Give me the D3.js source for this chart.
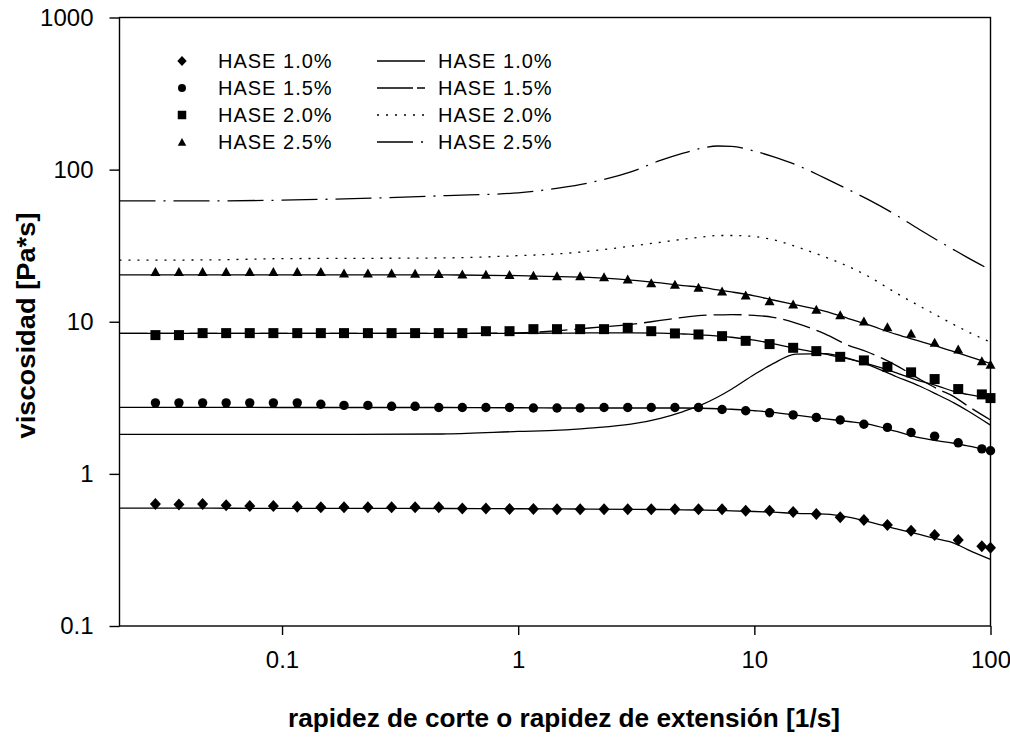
<!DOCTYPE html>
<html>
<head>
<meta charset="utf-8">
<script src="https://cdn.jsdelivr.net/npm/d3@7/dist/d3.min.js"></script>
<style>
  html, body { margin: 0; padding: 0; background: #fff; }
  svg { display: block; font-family: "Liberation Sans", Arial, sans-serif; }
</style>
</head>
<body>
<svg id="chart" width="1010" height="747"></svg>
<script>
// ---------- data ----------
const shearRates = [0.0291,0.0366,0.0461,0.0580,0.0730,0.0919,0.116,0.146,0.183,0.231,
  0.291,0.366,0.461,0.580,0.730,0.919,1.16,1.46,1.83,2.31,
  2.91,3.66,4.61,5.80,7.30,9.19,11.6,14.6,18.3,23.1,
  29.1,36.6,46.1,58.0,73.0,91.9,100];

const hase10Data = [0.633,0.630,0.633,0.621,0.614,0.614,0.608,0.603,0.603,0.603,
  0.603,0.603,0.603,0.593,0.593,0.587,0.587,0.585,0.585,0.585,
  0.585,0.585,0.585,0.585,0.585,0.573,0.573,0.562,0.545,0.518,
  0.497,0.461,0.423,0.396,0.367,0.335,0.327];
const hase15Data = [2.93,2.93,2.93,2.93,2.93,2.93,2.93,2.87,2.82,2.82,
  2.78,2.78,2.73,2.73,2.73,2.73,2.71,2.71,2.71,2.73,
  2.73,2.73,2.73,2.73,2.65,2.60,2.52,2.44,2.35,2.26,
  2.12,2.02,1.87,1.77,1.60,1.46,1.42];
const hase20Data = [8.17,8.17,8.42,8.42,8.42,8.42,8.42,8.42,8.42,8.42,
  8.42,8.42,8.42,8.42,8.67,8.67,8.94,8.94,8.94,8.94,
  9.12,8.67,8.38,8.25,8.04,7.49,7.13,6.74,6.41,5.88,
  5.57,5.05,4.65,4.20,3.61,3.33,3.15];
const hase25Data = [21.4,21.4,21.4,21.4,21.4,21.4,21.4,21.4,20.9,20.9,
  20.9,20.8,20.7,20.6,20.5,20.4,20.2,20.0,20.0,19.7,
  19.05,18.0,17.6,16.8,15.9,14.95,13.7,13.05,12.05,11.1,
  10.1,9.26,8.38,7.31,6.61,5.53,5.24];

const lineRates = [0.0205,0.05,0.1,0.2,0.5,1,1.5,2,3,4,5,6,7,8,10,12,15,20,25,30,40,50,60,70,80,100];
const fit10 = [0.595,0.595,0.593,0.593,0.592,0.590,0.588,0.587,0.585,0.583,0.580,0.578,0.575,0.572,0.566,0.560,0.550,0.544,0.520,0.488,0.435,0.400,0.372,0.351,0.318,0.274];
const fit15 = [2.74,2.74,2.73,2.73,2.73,2.72,2.71,2.71,2.71,2.71,2.71,2.70,2.68,2.66,2.60,2.54,2.43,2.30,2.21,2.13,1.90,1.73,1.65,1.59,1.53,1.42];
const fit20 = [8.38,8.38,8.38,8.38,8.38,8.40,8.42,8.44,8.45,8.42,8.31,8.21,8.05,7.91,7.57,7.17,6.65,6.12,5.70,5.30,4.62,4.08,3.78,3.48,3.33,3.13];
const fit25 = [20.3,20.3,20.3,20.3,20.3,20.1,19.8,19.6,18.8,18.0,17.3,16.8,16.2,15.7,14.8,13.9,12.9,11.7,10.5,9.6,8.25,7.45,6.85,6.37,5.95,5.32];
const model10 = [1.82,1.82,1.82,1.82,1.83,1.90,1.94,2.00,2.12,2.32,2.57,2.85,3.20,3.60,4.50,5.30,6.12,6.18,5.75,5.25,4.35,3.78,3.30,2.93,2.60,2.09];
const model15 = [8.38,8.38,8.38,8.38,8.38,8.45,8.75,9.10,9.60,10.2,10.7,11.0,11.1,11.15,11.0,10.7,9.8,8.3,7.0,6.35,5.15,4.2,3.6,3.22,2.8,2.26];
const model20 = [25.4,25.5,26.0,26.1,26.3,27.2,28.0,29.1,31.4,33.3,34.9,36.0,36.9,36.9,36.3,34.6,31.2,26.6,23.1,20.1,15.4,12.7,10.9,9.57,8.61,7.34];
const model25 = [62.3,62.3,63.0,64.5,67.5,70.3,75.9,82.0,96.6,114.9,128.2,138.5,143.0,142.3,132.4,121.7,107.6,87.6,74.0,64.2,50.1,40.4,34.1,29.7,26.4,21.9];

const seriesLabels = ["HASE 1.0%","HASE 1.5%","HASE 2.0%","HASE 2.5%"];
const yTicks = [0.1,1,10,100,1000];
const xTicks = [0.1,1,10,100];
const xTitle = "rapidez de corte o rapidez de extensión [1/s]";
const yTitle = "viscosidad [Pa*s]";

// ---------- layout ----------
const svg = d3.select("#chart");
const L = 119.5, R = 990.5, T = 17.5, B = 626;
const x = d3.scaleLog().domain([0.0205, 100]).range([L, R]);
const y = d3.scaleLog().domain([0.1, 1000]).range([B, T]);

svg.append("defs").append("clipPath").attr("id","plotclip")
  .append("rect").attr("x",L).attr("y",T).attr("width",R-L).attr("height",B-T);

// axes
const yAxis = d3.axisLeft(y).tickValues(yTicks).tickSize(10).tickPadding(16)
  .tickFormat(d => String(d));
const gy = svg.append("g").attr("transform",`translate(${L},0)`).call(yAxis);
const xAxis = d3.axisBottom(x).tickValues(xTicks).tickSize(9).tickPadding(16)
  .tickFormat(d => String(d));
const gx = svg.append("g").attr("transform",`translate(0,${B})`).call(xAxis);
[gx, gy].forEach(g => {
  g.select(".domain").remove();
  g.selectAll(".tick line").attr("stroke","#000").attr("stroke-width",1.4);
  g.selectAll(".tick text").attr("fill","#000").style("font-size","24px");
});

// frame
svg.append("rect").attr("x",L).attr("y",T).attr("width",R-L).attr("height",B-T)
  .attr("fill","none").attr("stroke","#000").attr("stroke-width",1.4);

// titles
svg.append("text").attr("x",564).attr("y",727).attr("text-anchor","middle")
  .attr("font-weight","bold").style("font-size","26px")
  .attr("textLength",552).attr("lengthAdjust","spacingAndGlyphs").text(xTitle);
svg.append("text").attr("transform","translate(35,325.5) rotate(-90)").attr("text-anchor","middle")
  .attr("font-weight","bold").style("font-size","26px")
  .attr("textLength",226).attr("lengthAdjust","spacingAndGlyphs").text(yTitle);

// lines
const lineGen = d3.line().x(d => x(d[0])).y(d => y(d[1])).curve(d3.curveMonotoneX);
const plot = svg.append("g").attr("clip-path","url(#plotclip)");
const lineSets = [
  {v: fit10, dash: null},
  {v: fit15, dash: null},
  {v: fit20, dash: null},
  {v: fit25, dash: null},
  {v: model10, dash: null},
  {v: model15, dash: "28,7"},
  {v: model20, dash: "2,7"},
  {v: model25, dash: "36,8,2,8"}
];
lineSets.forEach(s => {
  const pts = lineRates.map((r,i) => [r, s.v[i]]);
  const p = plot.append("path").attr("d", lineGen(pts)).attr("fill","none")
    .attr("stroke","#000").attr("stroke-width",1.3);
  if (s.dash) p.attr("stroke-dasharray", s.dash);
});

// markers
const shapes = [
  "M0,-6L5.5,0L0,6L-5.5,0Z",
  "M4.7,0A4.7,4.7 0 1,1 -4.7,0A4.7,4.7 0 1,1 4.7,0Z",
  "M-5,-5H5V5H-5Z",
  "M0,-4.6L5,4.4L-5,4.4Z"
];
const dataSets = [hase10Data, hase15Data, hase20Data, hase25Data];
dataSets.forEach((vals, si) => {
  svg.append("g").selectAll("path").data(vals).join("path")
    .attr("d", shapes[si])
    .attr("transform", (d,i) => `translate(${x(shearRates[i])},${y(d)})`)
    .attr("fill","#000");
});

// legend
const rows = [61, 88, 115, 142];
const legDash = [null, "36,4", "2,7", "36,8,2,8"];
seriesLabels.forEach((lab, i) => {
  svg.append("path").attr("d", shapes[i]).attr("transform",`translate(182,${rows[i]}) scale(0.85)`).attr("fill","#000");
  svg.append("text").attr("x",218).attr("y",rows[i]).attr("dy","0.36em")
    .style("font-size","20px").style("letter-spacing","1px").text(lab);
  const ln = svg.append("line").attr("x1",377).attr("x2",425).attr("y1",rows[i]).attr("y2",rows[i])
    .attr("stroke","#000").attr("stroke-width",1.3);
  if (legDash[i]) ln.attr("stroke-dasharray", legDash[i]);
  svg.append("text").attr("x",438).attr("y",rows[i]).attr("dy","0.36em")
    .style("font-size","20px").style("letter-spacing","1px").text(lab);
});
</script>
</body>
</html>
